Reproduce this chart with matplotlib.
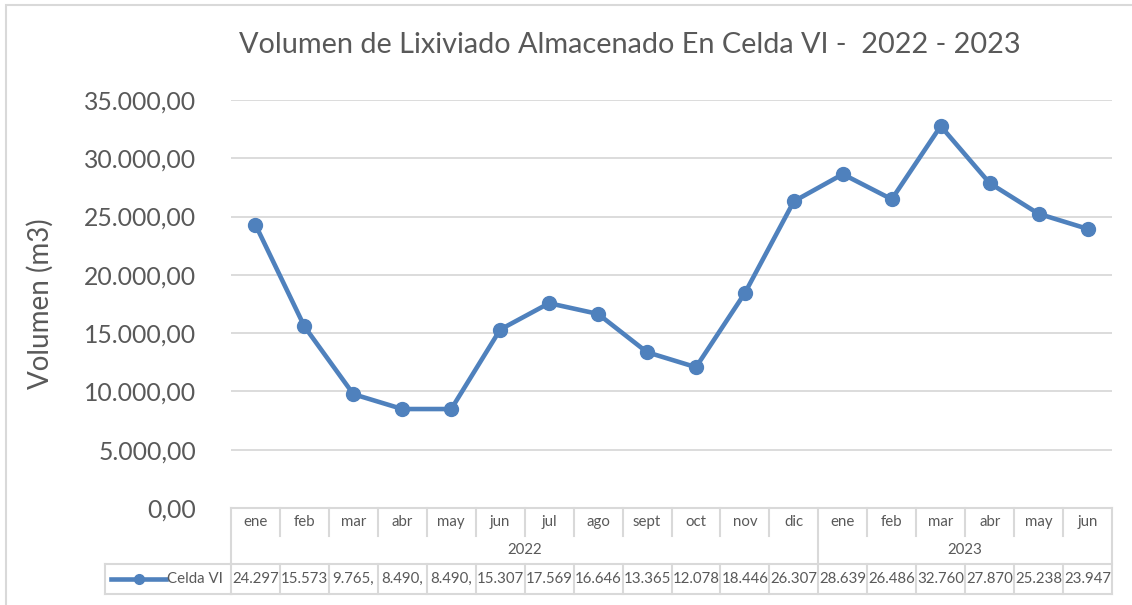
import matplotlib
matplotlib.use("Agg")
import matplotlib.pyplot as plt
from matplotlib.ticker import FuncFormatter, MultipleLocator
from matplotlib.patches import Rectangle

plt.rcParams['font.family'] = ['Lato', 'DejaVu Sans']

# data
months = ["ene", "feb", "mar", "abr", "may", "jun", "jul", "ago", "sept", "oct", "nov", "dic",
          "ene", "feb", "mar", "abr", "may", "jun"]
years = ["2022", "2023"]
year_counts = [12, 6]
celda_vi = [24297, 15573, 9765, 8490, 8490, 15307, 17569, 16646, 13365, 12078, 18446, 26307,
            28639, 26486, 32760, 27870, 25238, 23947]

blue = "#4F81BD"
txt = "#595959"
grid = "#D9D9D9"

fig = plt.figure(figsize=(11.32, 6.05), dpi=100)
ax = fig.add_axes([231/1132, 97/605, (1112-231)/1132, 408/605])

x = list(range(len(celda_vi)))
ax.plot(x, celda_vi, color=blue, lw=3.3, marker="o", ms=10, zorder=3)

ax.set_xlim(-0.5, len(celda_vi) - 0.5)
ax.set_ylim(0, 35000)
ax.yaxis.set_major_locator(MultipleLocator(5000))


def fmt(v, pos=None):
    s = f"{v:,.2f}"
    return s.replace(",", "X").replace(".", ",").replace("X", ".")


ax.yaxis.set_major_formatter(FuncFormatter(fmt))
ax.tick_params(axis="y", length=0, pad=25, labelsize=17.8, labelcolor=txt)
ax.set_xticks([])
ax.grid(axis="y", color=grid, lw=1.3)
ax.set_axisbelow(True)
for s in ax.spines.values():
    s.set_visible(False)
ax.set_ylabel("Volumen (m3)", fontsize=20, color=txt, labelpad=22)

fig.text(630/1132, 1 - 45/605, "Volumen de Lixiviado Almacenado En Celda VI -  2022 - 2023",
         fontsize=20.8, color=txt, ha="center", va="center")

# data table below the axis
tr = ax.get_xaxis_transform()
px = 1 / 408
r0, r1, r2, r3 = 0, -28 * px, -56 * px, -86 * px
lc = "#D9D9D9"
lw = 1.5
n = len(months)
kw = dict(transform=tr, clip_on=False, color=lc, lw=lw)

# horizontal lines
ax.plot([-0.5, n - 0.5], [r0, r0], **kw)
ax.plot([-0.5, n - 0.5], [r2, r2], **kw)
ax.plot([-0.5, n - 0.5], [r3, r3], **kw)
# legend cell
x_left = -0.5 - (231 - 105) / 49
ax.plot([x_left, -0.5], [r2, r2], **kw)
ax.plot([x_left, -0.5], [r3, r3], **kw)
ax.plot([x_left, x_left], [r2, r3], **kw)

# verticals
for i in range(n + 1):
    xv = i - 0.5
    if i == 0 or i == n or i == year_counts[0]:
        ax.plot([xv, xv], [r0, r3], **kw)
    else:
        ax.plot([xv, xv], [r0, r1], **kw)
        ax.plot([xv, xv], [r2, r3], **kw)

for i, m in enumerate(months):
    ax.text(i, (r0 + r1) / 2, m, transform=tr, ha="center", va="center",
            fontsize=10.8, color=txt)
    v = f"{celda_vi[i]:,}".replace(",", ".")
    if len(v) < 6:
        v += ","
    ax.text(i, (r2 + r3) / 2, v, transform=tr, ha="center", va="center",
            fontsize=10.8, color=txt)

start = 0
for y, c in zip(years, year_counts):
    ax.text(start + (c - 1) / 2, (r1 + r2) / 2, y, transform=tr, ha="center", va="center",
            fontsize=10.8, color=txt)
    start += c

# legend key
ym = (r2 + r3) / 2
lx0 = x_left + 6 / 49
lx1 = lx0 + 55 / 49
ax.plot([lx0, lx1], [ym, ym], transform=tr, clip_on=False, color=blue, lw=3.3)
ax.plot([(lx0 + lx1) / 2], [ym], transform=tr, clip_on=False, color=blue, marker="o", ms=7)
ax.text(-0.5 - 8 / 49, ym, "Celda VI", transform=tr, ha="right", va="center",
        fontsize=10.8, color=txt)

# chart border
fig.add_artist(Rectangle((6/1132, -0.05), 1.1, 1 - 5/605 + 0.05, transform=fig.transFigure,
                         fill=False, ec="#D9D9D9", lw=1.5))

fig.savefig("out.png", dpi=100)
